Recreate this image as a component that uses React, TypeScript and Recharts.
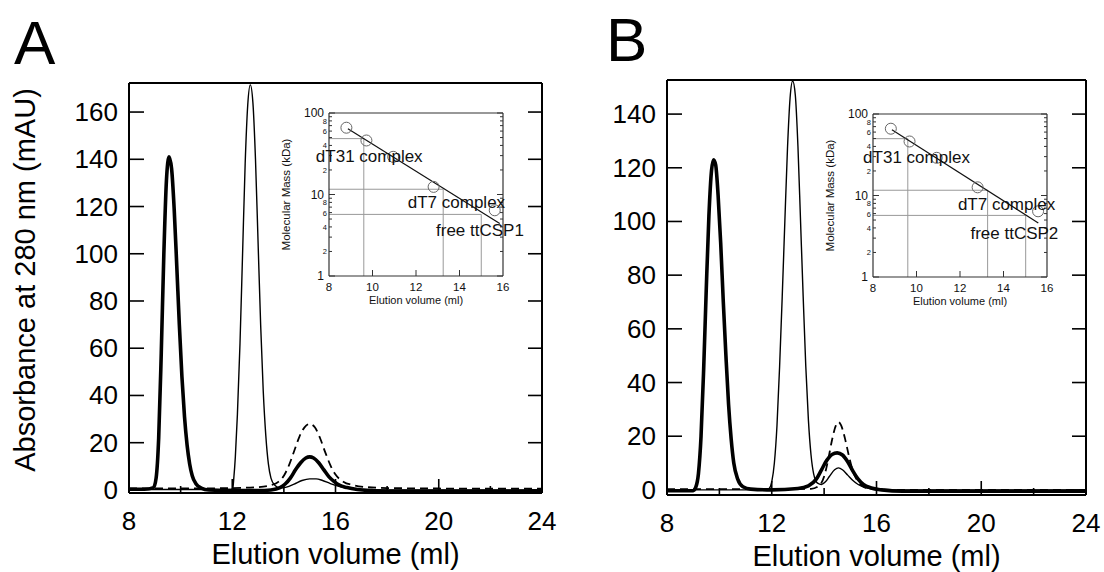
import React from 'react';
import {
  LineChart,
  ComposedChart,
  Line,
  XAxis,
  YAxis,
  Scatter,
  ReferenceLine,
  ReferenceDot,
  Label
} from 'recharts';

const FONT = '"Liberation Sans", Arial, Helvetica, sans-serif';

// main axes
const volTicks = [8, 10, 12, 14, 16, 18, 20, 22, 24];
const volLabelled = [8, 12, 16, 20, 24];
const absTicksA = [0, 20, 40, 60, 80, 100, 120, 140, 160];
const absTicksB = [0, 20, 40, 60, 80, 100, 120, 140];

// panel A traces (elution volume ml / absorbance mAU)
const aThickVol = [8, 8.6, 8.95, 9.05, 9.15, 9.25, 9.35, 9.45, 9.55, 9.65, 9.75, 9.85, 9.95, 10.05, 10.15, 10.25, 10.35, 10.45, 10.6, 10.8, 11.1, 12, 13, 13.5, 13.85, 14.05, 14.25, 14.45, 14.65, 14.85, 15.0, 15.15, 15.35, 15.55, 15.75, 15.95, 16.15, 16.45, 16.85, 17.3, 18, 20, 22, 24];
const aThickAbs = [0.3, 0.3, 1, 5, 22, 58, 100, 131, 141, 136, 119, 95, 70, 48, 31, 19, 11, 6, 2.5, 0.8, 0, -0.3, -0.3, 0, 1, 2.5, 5, 8.5, 11.5, 13.5, 14, 13.5, 11.5, 8.5, 5.5, 3.5, 2, 1, 0.2, -0.3, -0.6, -0.6, -0.6, -0.6];
const aThinVol = [8, 11.95, 12.02, 12.06, 12.12, 12.2, 12.3, 12.4, 12.5, 12.6, 12.7, 12.8, 12.9, 13.0, 13.1, 13.2, 13.3, 13.4, 13.5, 13.65, 13.85, 14.1, 14.4, 14.7, 15.0, 15.25, 15.5, 15.8, 16.1, 16.5, 17, 18, 24];
const aThinAbs = [0.2, 0.2, 0.6, 5, 14, 32, 62, 100, 138, 163, 171.5, 164, 140, 105, 70, 42, 23, 11, 5, 2, 0.8, 1.2, 2.5, 4, 4.7, 4.7, 4, 2.7, 1.6, 0.7, 0.2, 0, 0];
const aDashVol = [8, 10, 12, 13.0, 13.5, 13.8, 14.0, 14.2, 14.4, 14.6, 14.8, 15.0, 15.2, 15.4, 15.6, 15.8, 16.0, 16.3, 16.7, 17.2, 18, 20, 22, 24];
const aDashAbs = [0.6, 0.6, 0.8, 1.2, 2, 3.5, 6, 10.5, 16.5, 22.5, 26.5, 28, 26.5, 22, 16, 10.5, 6.5, 3.5, 2, 1.2, 0.8, 0.6, 0.5, 0.5];

// panel B traces
const bThickVol = [8, 9.0, 9.1, 9.2, 9.3, 9.4, 9.5, 9.6, 9.7, 9.78, 9.86, 9.95, 10.05, 10.15, 10.25, 10.35, 10.45, 10.55, 10.7, 10.9, 11.2, 12, 13, 13.4, 13.7, 13.9, 14.1, 14.3, 14.5, 14.7, 14.9, 15.1, 15.3, 15.5, 15.8, 16.2, 17, 20, 24];
const bThickAbs = [-0.3, -0.3, 1, 6, 20, 45, 75, 102, 119, 123, 121, 110, 92, 70, 50, 32, 19, 10, 4, 1.2, 0.3, 0, 0.5, 1.5, 4, 7.5, 11, 13.2, 13.8, 13, 10.5, 7, 4, 2, 0.7, 0, -0.5, -0.5, -0.5];
const bThinVol = [8, 11.8, 11.9, 12.0, 12.1, 12.2, 12.3, 12.4, 12.5, 12.6, 12.7, 12.8, 12.9, 13.0, 13.1, 13.2, 13.3, 13.4, 13.5, 13.6, 13.75, 13.9, 14.05, 14.2, 14.4, 14.55, 14.7, 14.9, 15.1, 15.3, 15.6, 16.0, 17, 24];
const bThinAbs = [0, 0, 0.5, 3, 10, 24, 46, 72, 100, 127, 146, 152.3, 147, 128, 100, 72, 46, 26, 13, 6, 2.5, 2, 3, 5, 7.5, 8.2, 7.5, 5.5, 3.5, 2, 0.8, 0.2, 0, 0];
const bDashVol = [8, 10, 12, 13.5, 13.8, 14.0, 14.15, 14.3, 14.45, 14.55, 14.65, 14.8, 14.95, 15.1, 15.3, 15.5, 15.8, 17, 20, 24];
const bDashAbs = [0.3, 0.3, 0.3, 0.4, 1.5, 5, 11, 18.5, 24, 25.3, 24, 19, 12.5, 7, 3, 1.2, 0.3, 0, 0, 0];

// insets: calibration (elution volume ml / molecular mass kDa)
const insetVolTicks = [8, 10, 12, 14, 16];
const massTicks = [1, 2, 3, 4, 5, 6, 7, 8, 9, 10, 20, 30, 40, 50, 60, 70, 80, 90, 100];
const massMajor = [1, 10, 100];
const massMinorLabelled = [2, 4, 6, 8, 20, 40, 60, 80];

const stdVolA = [8.8, 9.72, 10.95, 12.81, 15.62];
const stdMassA = [66, 46, 29, 12.4, 6.4];
const fitVolA = [8.87, 15.85];
const fitMassA = [64, 4.4];
const guideVolA = [9.6, 13.25, 15.0];
const guideMassA = [48.5, 11.6, 5.7];
const noteTextA = ['dT31 complex', 'dT7 complex', 'free ttCSP1'];
const noteVolA = [9.85, 13.86, 14.94];
const noteMassA = [29.7, 8.1, 3.67];

const stdVolB = [8.82, 9.68, 10.93, 12.81, 15.59];
const stdMassB = [66, 46, 29, 12.6, 6.4];
const fitVolB = [8.87, 15.6];
const fitMassB = [64, 4.6];
const guideVolB = [9.6, 13.27, 15.02];
const guideMassB = [49.8, 11.6, 5.7];
const noteTextB = ['dT31 complex', 'dT7 complex', 'free ttCSP2'];
const noteVolB = [10.0, 14.14, 14.5];
const noteMassB = [29.7, 7.9, 3.47];

const toPoints = (vol: number[], abs: number[]) => vol.map((v, i) => ({ v, a: abs[i] }));
const toMass = (vol: number[], mass: number[]) => vol.map((v, i) => ({ v, m: mass[i] }));

// ---- main axis ticks (all pointing inwards) ----
const bottomTick = (props: any) => {
  const { x, y, payload } = props;
  const major = volLabelled.includes(payload.value);
  return (
    <g>
      <line x1={x} x2={x} y1={y} y2={y - (major ? 14 : 7)} stroke="#000" strokeWidth={1.6} />
      {major && (
        <text x={x} y={y + 37} textAnchor="middle" fontSize={26} fontFamily={FONT} fill="#000">
          {payload.value}
        </text>
      )}
    </g>
  );
};

const topTick = (props: any) => {
  const { x, y, payload } = props;
  const major = volLabelled.includes(payload.value);
  return <line x1={x} x2={x} y1={y} y2={y + (major ? 14 : 7)} stroke="#000" strokeWidth={1.6} />;
};

const leftTick = (props: any) => {
  const { x, y, payload } = props;
  return (
    <g>
      <line x1={x} x2={x + 15} y1={y} y2={y} stroke="#000" strokeWidth={1.6} />
      <text x={x - 11} y={y + 9} textAnchor="end" fontSize={26} fontFamily={FONT} fill="#000">
        {payload.value}
      </text>
    </g>
  );
};

const rightTick = (props: any) => {
  const { x, y } = props;
  return <line x1={x} x2={x - 14} y1={y} y2={y} stroke="#000" strokeWidth={1.6} />;
};

// ---- inset ticks ----
const insetBottomTick = (props: any) => {
  const { x, y, payload } = props;
  const inner = payload.value > 8 && payload.value < 16;
  return (
    <g>
      {inner && <line x1={x} x2={x} y1={y} y2={y - 6} stroke="#333" strokeWidth={1} />}
      <text x={x} y={y + 15} textAnchor="middle" fontSize={11.5} fontFamily={FONT} fill="#111">
        {payload.value}
      </text>
    </g>
  );
};

const insetTopTick = (props: any) => {
  const { x, y, payload } = props;
  if (payload.value <= 8 || payload.value >= 16) return <g />;
  return <line x1={x} x2={x} y1={y} y2={y + 6} stroke="#333" strokeWidth={1} />;
};

const insetLeftTick = (props: any) => {
  const { x, y, payload } = props;
  const major = massMajor.includes(payload.value);
  const minorLabel = massMinorLabelled.includes(payload.value);
  return (
    <g>
      <line x1={x} x2={x + (major ? 6 : 3)} y1={y} y2={y} stroke="#333" strokeWidth={1} />
      {major && (
        <text x={x - 5} y={y + 4} textAnchor="end" fontSize={12} fontFamily={FONT} fill="#111">
          {payload.value}
        </text>
      )}
      {minorLabel && (
        <text x={x - 2} y={y + 3} textAnchor="end" fontSize={7.5} fontFamily={FONT} fill="#111">
          {String(payload.value).charAt(0)}
        </text>
      )}
    </g>
  );
};

const insetRightTick = (props: any) => {
  const { x, y, payload } = props;
  const major = massMajor.includes(payload.value);
  return <line x1={x} x2={x - (major ? 6 : 3)} y1={y} y2={y} stroke="#333" strokeWidth={1} />;
};

const hollowCircle = (p: any) => (
  <circle cx={p.cx} cy={p.cy} r={5.5} fill="none" stroke="#666" strokeWidth={1} />
);

function Inset({ stdVol, stdMass, fitVol, fitMass, guideVol, guideMass, noteText, noteVol, noteMass }: any) {
  const standards = toMass(stdVol, stdMass);
  const fit = toMass(fitVol, fitMass);
  return (
    <ComposedChart width={270} height={214} margin={{ top: 12, right: 35, bottom: 37, left: 59 }}>
      <XAxis
        type="number"
        dataKey="v"
        domain={[8, 16]}
        ticks={insetVolTicks}
        interval={0}
        allowDataOverflow
        height={1}
        tickSize={0}
        tickMargin={0}
        tickLine={false}
        tick={insetBottomTick}
        axisLine={{ stroke: '#333', strokeWidth: 1.2 }}
      >
        <Label
          content={(p: any) => (
            <text x={p.viewBox.x + p.viewBox.width / 2} y={p.viewBox.y + 28} textAnchor="middle" fontSize={11} fontFamily={FONT} fill="#111">
              Elution volume (ml)
            </text>
          )}
        />
      </XAxis>
      <XAxis
        xAxisId="top"
        orientation="top"
        type="number"
        domain={[8, 16]}
        ticks={insetVolTicks}
        interval={0}
        allowDataOverflow
        height={1}
        tickSize={0}
        tickMargin={0}
        tickLine={false}
        tick={insetTopTick}
        axisLine={{ stroke: '#333', strokeWidth: 1.2 }}
      />
      <YAxis
        type="number"
        dataKey="m"
        scale="log"
        domain={[1, 100]}
        ticks={massTicks}
        interval={0}
        allowDataOverflow
        width={1}
        tickSize={0}
        tickMargin={0}
        tickLine={false}
        tick={insetLeftTick}
        axisLine={{ stroke: '#333', strokeWidth: 1.2 }}
      >
        <Label
          content={(p: any) => {
            const cx = p.viewBox.x - 38;
            const cy = p.viewBox.y + p.viewBox.height / 2;
            return (
              <text x={cx} y={cy} transform={`rotate(-90 ${cx} ${cy})`} textAnchor="middle" fontSize={11.5} fontFamily={FONT} fill="#111">
                Molecular Mass (kDa)
              </text>
            );
          }}
        />
      </YAxis>
      <YAxis
        yAxisId="right"
        orientation="right"
        type="number"
        scale="log"
        domain={[1, 100]}
        ticks={massTicks}
        interval={0}
        allowDataOverflow
        width={1}
        tickSize={0}
        tickMargin={0}
        tickLine={false}
        tick={insetRightTick}
        axisLine={{ stroke: '#333', strokeWidth: 1.2 }}
      />
      {guideVol.map((gv: number, i: number) => (
        <ReferenceLine
          key={`h${i}`}
          segment={[{ x: 8, y: guideMass[i] }, { x: gv, y: guideMass[i] }]}
          stroke="#999"
          strokeWidth={1}
          ifOverflow="visible"
        />
      ))}
      {guideVol.map((gv: number, i: number) => (
        <ReferenceLine
          key={`v${i}`}
          segment={[{ x: gv, y: 1 }, { x: gv, y: guideMass[i] }]}
          stroke="#999"
          strokeWidth={1}
          ifOverflow="visible"
        />
      ))}
      <Line data={fit} dataKey="m" type="linear" stroke="#111" strokeWidth={1.2} dot={false} isAnimationActive={false} />
      <Scatter data={standards} dataKey="m" shape={hollowCircle} isAnimationActive={false} />
      {noteText.map((t: string, i: number) => (
        <ReferenceDot
          key={t}
          x={noteVol[i]}
          y={noteMass[i]}
          r={0}
          fill="none"
          stroke="none"
          ifOverflow="visible"
          label={{ value: t, position: 'center', fontSize: 17, fill: '#111', fontFamily: FONT }}
        />
      ))}
    </ComposedChart>
  );
}

function Panel({ width, margin, yDomain, yTicks, thick, thin, dashed, withTitle }: any) {
  return (
    <LineChart width={width} height={572} margin={margin}>
      <XAxis
        type="number"
        dataKey="v"
        domain={[8, 24]}
        ticks={volTicks}
        interval={0}
        allowDataOverflow
        height={1}
        tickSize={0}
        tickMargin={0}
        tickLine={false}
        tick={bottomTick}
        axisLine={{ stroke: '#000', strokeWidth: 2 }}
      >
        <Label
          content={(p: any) => (
            <text x={p.viewBox.x + p.viewBox.width / 2} y={p.viewBox.y + 71} textAnchor="middle" fontSize={29} fontFamily={FONT} fill="#000">
              Elution volume (ml)
            </text>
          )}
        />
      </XAxis>
      <XAxis
        xAxisId="top"
        orientation="top"
        type="number"
        domain={[8, 24]}
        ticks={volTicks}
        interval={0}
        allowDataOverflow
        height={1}
        tickSize={0}
        tickMargin={0}
        tickLine={false}
        tick={topTick}
        axisLine={{ stroke: '#000', strokeWidth: 2 }}
      />
      <YAxis
        type="number"
        domain={yDomain}
        ticks={yTicks}
        interval={0}
        allowDataOverflow
        width={1}
        tickSize={0}
        tickMargin={0}
        tickLine={false}
        tick={leftTick}
        axisLine={{ stroke: '#000', strokeWidth: 2 }}
      >
        {withTitle && (
          <Label
            content={(p: any) => {
              const cx = p.viewBox.x - 93;
              const cy = p.viewBox.y + p.viewBox.height / 2 - 8;
              return (
                <text x={cx} y={cy} transform={`rotate(-90 ${cx} ${cy})`} textAnchor="middle" fontSize={29} fontFamily={FONT} fill="#000">
                  Absorbance at 280 nm (mAU)
                </text>
              );
            }}
          />
        )}
      </YAxis>
      <YAxis
        yAxisId="right"
        orientation="right"
        type="number"
        domain={yDomain}
        ticks={yTicks}
        interval={0}
        allowDataOverflow
        width={1}
        tickSize={0}
        tickMargin={0}
        tickLine={false}
        tick={rightTick}
        axisLine={{ stroke: '#000', strokeWidth: 2 }}
      />
      <Line data={dashed} dataKey="a" type="monotone" stroke="#000" strokeWidth={1.8} strokeDasharray="8 5" dot={false} isAnimationActive={false} />
      <Line data={thin} dataKey="a" type="monotone" stroke="#000" strokeWidth={1.4} dot={false} isAnimationActive={false} />
      <Line data={thick} dataKey="a" type="monotone" stroke="#000" strokeWidth={3.6} dot={false} isAnimationActive={false} />
    </LineChart>
  );
}

export default function App() {
  return (
    <div style={{ position: 'absolute', left: 0, top: 0, width: 1104, height: 572, background: '#fff', fontFamily: FONT, overflow: 'hidden' }}>
      <div style={{ position: 'absolute', left: 0, top: 0 }}>
        <Panel
          width={580}
          margin={{ top: 82, right: 37, bottom: 78, left: 128 }}
          yDomain={[-1.3, 172.3]}
          yTicks={absTicksA}
          thick={toPoints(aThickVol, aThickAbs)}
          thin={toPoints(aThinVol, aThinAbs)}
          dashed={toPoints(aDashVol, aDashAbs)}
          withTitle
        />
      </div>
      <div style={{ position: 'absolute', left: 580, top: 0 }}>
        <Panel
          width={524}
          margin={{ top: 79, right: 17, bottom: 76, left: 86 }}
          yDomain={[-1.9, 152.7]}
          yTicks={absTicksB}
          thick={toPoints(bThickVol, bThickAbs)}
          thin={toPoints(bThinVol, bThinAbs)}
          dashed={toPoints(bDashVol, bDashAbs)}
          withTitle={false}
        />
      </div>
      <div style={{ position: 'absolute', left: 269, top: 100 }}>
        <Inset
          stdVol={stdVolA}
          stdMass={stdMassA}
          fitVol={fitVolA}
          fitMass={fitMassA}
          guideVol={guideVolA}
          guideMass={guideMassA}
          noteText={noteTextA}
          noteVol={noteVolA}
          noteMass={noteMassA}
        />
      </div>
      <div style={{ position: 'absolute', left: 813, top: 101 }}>
        <Inset
          stdVol={stdVolB}
          stdMass={stdMassB}
          fitVol={fitVolB}
          fitMass={fitMassB}
          guideVol={guideVolB}
          guideMass={guideMassB}
          noteText={noteTextB}
          noteVol={noteVolB}
          noteMass={noteMassB}
        />
      </div>
      <div style={{ position: 'absolute', left: 14, top: 12, fontSize: 62, lineHeight: 1, color: '#000' }}>A</div>
      <div style={{ position: 'absolute', left: 606, top: 9, fontSize: 62, lineHeight: 1, color: '#000' }}>B</div>
    </div>
  );
}
